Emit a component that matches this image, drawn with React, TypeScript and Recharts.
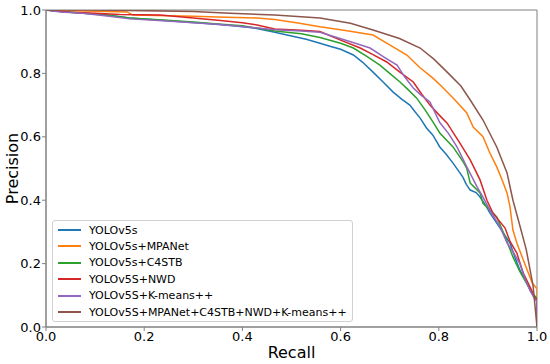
import React from "react";
import { LineChart, Line, XAxis, YAxis, ReferenceArea } from "recharts";

const seriesNames = [
  "YOLOv5s",
  "YOLOv5s+MPANet",
  "YOLOv5s+C4STB",
  "YOLOv5S+NWD",
  "YOLOv5S+K-means++",
  "YOLOv5S+MPANet+C4STB+NWD+K-means++",
];
const seriesColors = ["#1f77b4", "#ff7f0e", "#2ca02c", "#d62728", "#9467bd", "#8c564b"];

const axisTicks = [0, 0.2, 0.4, 0.6, 0.8, 1.0];

// [recall, precision]
const yolov5s: [number, number][] = [
  [0, 1.0], [0.02, 0.997], [0.05, 0.993], [0.08, 0.99], [0.12, 0.985], [0.17, 0.975], [0.22, 0.969],
  [0.27, 0.964], [0.32, 0.958], [0.37, 0.952], [0.42, 0.944], [0.466, 0.93], [0.5, 0.918], [0.53, 0.908],
  [0.558, 0.895], [0.58, 0.885], [0.6, 0.876], [0.626, 0.858], [0.645, 0.835], [0.666, 0.804], [0.685, 0.775],
  [0.707, 0.741], [0.725, 0.718], [0.741, 0.7], [0.752, 0.678], [0.762, 0.659], [0.775, 0.628], [0.788, 0.605],
  [0.802, 0.568], [0.815, 0.545], [0.829, 0.517], [0.849, 0.473], [0.856, 0.45], [0.864, 0.432], [0.876, 0.424],
  [0.884, 0.41], [0.897, 0.38], [0.904, 0.36], [0.928, 0.305], [0.945, 0.265], [0.955, 0.22], [0.965, 0.18],
  [0.976, 0.148], [0.986, 0.117], [0.995, 0.092], [1.0, 0.085], [1.0, 0],
];
const yolov5sMPANet: [number, number][] = [
  [0, 1.0], [0.05, 0.998], [0.1, 0.996], [0.165, 0.994], [0.177, 0.984], [0.25, 0.982], [0.3, 0.98],
  [0.35, 0.978], [0.43, 0.975], [0.466, 0.97], [0.51, 0.96], [0.558, 0.947], [0.61, 0.935], [0.666, 0.921],
  [0.7, 0.89], [0.735, 0.858], [0.76, 0.82], [0.788, 0.785], [0.805, 0.76], [0.833, 0.716], [0.857, 0.675],
  [0.87, 0.631], [0.89, 0.6], [0.904, 0.549], [0.918, 0.505], [0.929, 0.464], [0.939, 0.423], [0.945, 0.379],
  [0.951, 0.306], [0.959, 0.265], [0.97, 0.22], [0.98, 0.18], [0.99, 0.14], [0.997, 0.126], [1.0, 0.12], [1.0, 0],
];
const yolov5sC4STB: [number, number][] = [
  [0, 1.0], [0.03, 0.995], [0.075, 0.99], [0.12, 0.984], [0.171, 0.975], [0.246, 0.968], [0.3, 0.962],
  [0.35, 0.956], [0.4, 0.95], [0.43, 0.943], [0.466, 0.934], [0.52, 0.925], [0.558, 0.913], [0.6, 0.895],
  [0.626, 0.88], [0.655, 0.852], [0.68, 0.826], [0.7, 0.8], [0.721, 0.773], [0.738, 0.748], [0.755, 0.722],
  [0.772, 0.685], [0.788, 0.647], [0.802, 0.612], [0.829, 0.568], [0.85, 0.52], [0.857, 0.5], [0.864, 0.454],
  [0.884, 0.423], [0.89, 0.39], [0.91, 0.36], [0.918, 0.347], [0.935, 0.285], [0.951, 0.221],
  [0.965, 0.175], [0.978, 0.14], [0.99, 0.107], [1.0, 0.09], [1.0, 0],
];
const yolov5sNWD: [number, number][] = [
  [0, 1.0], [0.05, 0.993], [0.1, 0.99], [0.15, 0.986], [0.232, 0.984], [0.3, 0.975], [0.35, 0.968],
  [0.4, 0.96], [0.43, 0.953], [0.466, 0.94], [0.52, 0.936], [0.558, 0.932], [0.6, 0.905], [0.64, 0.88],
  [0.665, 0.86], [0.694, 0.836], [0.72, 0.805], [0.748, 0.773], [0.765, 0.735], [0.782, 0.7], [0.8, 0.67],
  [0.817, 0.643], [0.843, 0.58], [0.864, 0.527], [0.884, 0.464], [0.898, 0.4], [0.91, 0.36], [0.935, 0.312],
  [0.945, 0.27], [0.959, 0.233], [0.972, 0.17], [0.986, 0.126], [0.995, 0.095], [1.0, 0.085], [1.0, 0],
];
const yolov5sKmeans: [number, number][] = [
  [0, 1.0], [0.03, 0.994], [0.075, 0.99], [0.12, 0.982], [0.171, 0.972], [0.246, 0.965], [0.3, 0.96],
  [0.35, 0.955], [0.4, 0.948], [0.43, 0.943], [0.466, 0.938], [0.52, 0.934], [0.558, 0.93], [0.599, 0.91],
  [0.63, 0.895], [0.66, 0.88], [0.69, 0.85], [0.715, 0.826], [0.73, 0.79], [0.748, 0.754], [0.765, 0.73],
  [0.782, 0.71], [0.802, 0.645], [0.82, 0.61], [0.837, 0.568], [0.857, 0.505], [0.878, 0.442], [0.89, 0.41],
  [0.904, 0.369], [0.925, 0.315], [0.939, 0.265], [0.952, 0.235], [0.965, 0.2], [0.976, 0.15],
  [0.986, 0.115], [0.995, 0.09], [1.0, 0.08], [1.0, 0],
];
const yolov5sAll: [number, number][] = [
  [0, 1.0], [0.1, 1.0], [0.2, 0.998], [0.3, 0.995], [0.375, 0.99], [0.466, 0.984], [0.558, 0.975],
  [0.62, 0.958], [0.666, 0.937], [0.72, 0.91], [0.762, 0.88], [0.79, 0.845], [0.817, 0.804], [0.845, 0.76],
  [0.864, 0.716], [0.89, 0.653], [0.918, 0.568], [0.939, 0.486], [0.951, 0.4], [0.965, 0.32], [0.978, 0.245],
  [0.992, 0.13], [1.0, 0],
];

const allSeries = [yolov5s, yolov5sMPANet, yolov5sC4STB, yolov5sNWD, yolov5sKmeans, yolov5sAll];

const FONT = "'DejaVu Sans', sans-serif";
const AXIS_COLOR = "#808080";

const LegendBox = () => (
  <div
    style={{
      position: "absolute",
      left: 52,
      top: 220,
      width: 301,
      height: 102,
      border: "1px solid #d0d0d0",
      borderRadius: 3,
      background: "rgba(255,255,255,0.8)",
      fontFamily: FONT,
      fontSize: 11,
      color: "#000",
      boxSizing: "border-box",
    }}
  >
    {seriesNames.map((n, i) => (
      <div
        key={n}
        style={{ position: "absolute", left: 0, top: 9 + i * 16.4 - 8, height: 16, display: "flex", alignItems: "center" }}
      >
        <div style={{ marginLeft: 5, width: 23, height: 2, background: seriesColors[i] }} />
        <span style={{ marginLeft: 8, whiteSpace: "nowrap" }}>{n}</span>
      </div>
    ))}
  </div>
);

export default function App() {
  return (
    <div style={{ position: "absolute", left: 0, top: 0, width: 550, height: 364, background: "#fff" }}>
      <LineChart width={550} height={364} margin={{ top: 10, right: 13, left: 0, bottom: 0 }}>
        <XAxis
          type="number"
          dataKey="r"
          domain={[0, 1]}
          ticks={axisTicks}
          allowDataOverflow
          height={37}
          tickSize={4}
          tickMargin={1}
          tickFormatter={(v: number) => v.toFixed(1)}
          stroke={AXIS_COLOR}
          tick={{ fill: "#000", fontSize: 13, fontFamily: FONT }}
          label={(props: any) => {
            const vb = props.viewBox || { x: 46, y: 327, width: 491 };
            return (
              <text x={vb.x + vb.width / 2} y={vb.y + 31} textAnchor="middle" fontSize={16} fontFamily={FONT} fill="#000">
                Recall
              </text>
            );
          }}
        />
        <YAxis
          type="number"
          dataKey="p"
          domain={[0, 1]}
          ticks={axisTicks}
          allowDataOverflow
          width={46}
          tickSize={4}
          tickMargin={1}
          tickFormatter={(v: number) => v.toFixed(1)}
          stroke={AXIS_COLOR}
          tick={{ fill: "#000", fontSize: 13, fontFamily: FONT }}
          label={(props: any) => {
            const vb = props.viewBox || { x: 0, y: 10, height: 317 };
            const cx = vb.x + 18;
            const cy = vb.y + vb.height / 2;
            return (
              <text x={cx} y={cy} transform={`rotate(-90 ${cx} ${cy})`} textAnchor="middle" fontSize={16} fontFamily={FONT} fill="#000">
                Precision
              </text>
            );
          }}
        />
        <ReferenceArea x1={0} x2={1} y1={0} y2={1} fill="none" stroke={AXIS_COLOR} strokeWidth={1} ifOverflow="visible" />
        {allSeries.map((s, i) => (
          <Line
            key={seriesNames[i]}
            data={s.map(([r, p]) => ({ r, p }))}
            dataKey="p"
            name={seriesNames[i]}
            type="linear"
            stroke={seriesColors[i]}
            strokeWidth={1.5}
            dot={false}
            activeDot={false}
            isAnimationActive={false}
          />
        ))}
      </LineChart>
      <LegendBox />
    </div>
  );
}
